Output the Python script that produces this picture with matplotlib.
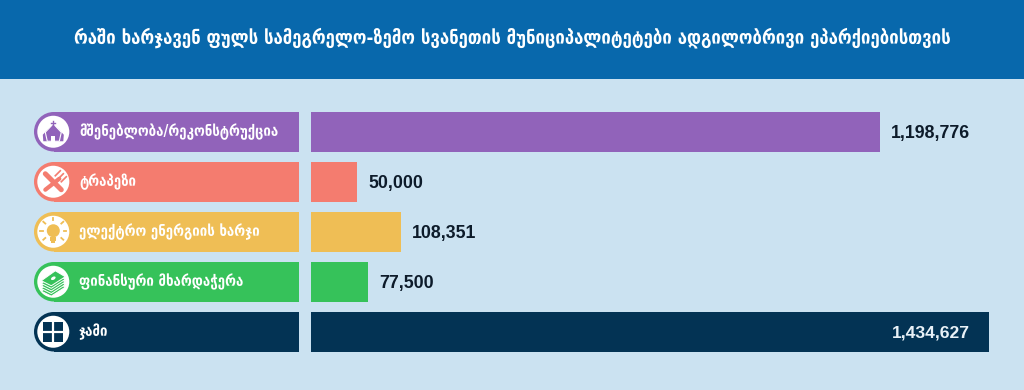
import matplotlib
matplotlib.use('Agg')
import matplotlib.pyplot as plt
from matplotlib.patches import Rectangle, Circle, Polygon, Ellipse

title = 'რაში ხარჯავენ ფულს სამეგრელო-ზემო სვანეთის მუნიციპალიტეტები ადგილობრივი ეპარქიებისთვის'
categories = ['მშენებლობა/რეკონსტრუქცია', 'ტრაპეზი', 'ელექტრო ენერგიის ხარჯი',
              'ფინანსური მხარდაჭერა', 'ჯამი']
values = [1198776, 50000, 108351, 77500, 1434627]
# the bars in the picture are not proportional to the printed numbers,
# so their drawn lengths are read off separately (pixels)
bar_lengths = [569.5, 46.5, 90.5, 57.5, 678.5]
colors = ['#9163ba', '#f47c6f', '#efbe55', '#36c25a', '#033354']

W, H = 1024, 390
fig = plt.figure(figsize=(W / 100, H / 100), dpi=100, facecolor='#cbe2f1')

# pixel canvas for header, label panels and icons
bg = fig.add_axes([0, 0, 1, 1])
bg.set_xlim(0, W)
bg.set_ylim(H, 0)
bg.axis('off')
bg.add_patch(Rectangle((0, 0), W, 79, color='#0868ac', lw=0))
bg.text(512, 38, title, color='white', fontsize=13.4, fontweight='bold',
        family='DejaVu Sans', stretch='condensed', ha='center', va='center')

row_y = [131.75 + 50 * i for i in range(len(categories))]
bg.barh(row_y, [245] * 5, left=54, height=39.5, color=colors, lw=0)
for y, c, name in zip(row_y, colors, categories):
    bg.add_patch(Circle((53.75, y), 19.75, color=c, lw=0))
    bg.add_patch(Circle((53.3, y), 16, color='white', lw=0))
    bg.text(79, y, name, color='white', fontsize=10.6, fontweight='bold',
            family='DejaVu Sans', stretch='condensed', ha='left', va='center')


def church(x, y, c):
    bg.add_patch(Polygon([(x - 10.5, y + 3), (x - 5, y - 3), (x + 5, y - 3), (x + 10.5, y + 3),
                          (x + 10, y + 9.5), (x - 10, y + 9.5)], color=c, lw=0))
    bg.add_patch(Polygon([(x - 8, y + 0.5), (x, y - 8), (x + 8, y + 0.5), (x + 6, y + 9.5),
                          (x - 6, y + 9.5)], facecolor=c, edgecolor='white', lw=0.8))
    bg.add_patch(Rectangle((x - 2, y + 4), 4, 6, color='white', lw=0))
    bg.plot([x, x], [y - 11, y - 6], color=c, lw=1)
    bg.plot([x - 2, x + 2], [y - 9, y - 9], color=c, lw=1)


def cutlery(x, y, c):
    bg.plot([x - 8, x + 8], [y - 8, y + 8], color=c, lw=3.6, solid_capstyle='round')
    bg.plot([x + 6, x - 8], [y - 3, y + 8], color=c, lw=3, solid_capstyle='round')
    for d in (-3, 0, 3):
        bg.plot([x + 5 + d, x + 10 + d], [y - 3 + d, y - 8 + d], color=c, lw=1.2)


def bulb(x, y, c):
    bg.add_patch(Circle((x, y - 1), 6.5, color=c, lw=0))
    bg.add_patch(Rectangle((x - 3, y + 5), 6, 4, color=c, lw=0))
    bg.add_patch(Rectangle((x - 2, y + 9), 4, 2, color=c, lw=0))
    for dx, dy in [(-13, -1), (13, -1), (-10, -10), (10, -10), (0, -14), (-10, 8), (10, 8)]:
        bg.plot([x + dx, x + dx * 0.8], [y + dy, y - 1 + (dy + 1) * 0.8], color=c, lw=1.3)


def money(x, y, c):
    for i in range(5):
        d = 2.6 * i
        bg.add_patch(Polygon([(x - 12, y - 1 + d), (x + 2, y - 11 + d),
                              (x + 12, y - 5 + d), (x - 2, y + 4 + d)],
                             facecolor=c, edgecolor='white', lw=0.7, zorder=8 - i))
    bg.add_patch(Ellipse((x, y - 3.5), 5, 3, angle=-30, color='white', lw=0, zorder=9))


def window(x, y, c):
    bg.add_patch(Rectangle((x - 10, y - 10), 20, 20, color=c, lw=0))
    bg.plot([x, x], [y - 10, y + 10], color='white', lw=1.6)
    bg.plot([x - 10, x + 10], [y, y], color='white', lw=1.6)


for draw, y, c in zip([church, cutlery, bulb, money, window], row_y, colors):
    draw(53.3, y, c)

# value bars
ax = fig.add_axes([310.5 / W, 1 - 357 / H, 678.5 / W, 250 / H])
ax.patch.set_alpha(0)
ax.set_xlim(0, 678.5)
ax.set_ylim(4.5, -0.5)
ax.axis('off')
rows = list(range(len(values)))
ax.barh(rows, bar_lengths, height=0.79, color=colors, lw=0)
for i, v in enumerate(values):
    label = format(v, ',')
    if i == len(values) - 1:
        ax.annotate(label, (bar_lengths[i], i), xytext=(-14, -1), textcoords='offset points',
                    color='#e8f1f7', fontsize=12.6, fontweight='bold',
                    family='Liberation Sans', ha='right', va='center')
    else:
        ax.annotate(label, (bar_lengths[i], i), xytext=(8, -1), textcoords='offset points',
                    color='#0d1b2a', fontsize=12.8, fontweight='bold',
                    family='Liberation Sans', ha='left', va='center')

fig.savefig('out.png', dpi=100, facecolor=fig.get_facecolor())
